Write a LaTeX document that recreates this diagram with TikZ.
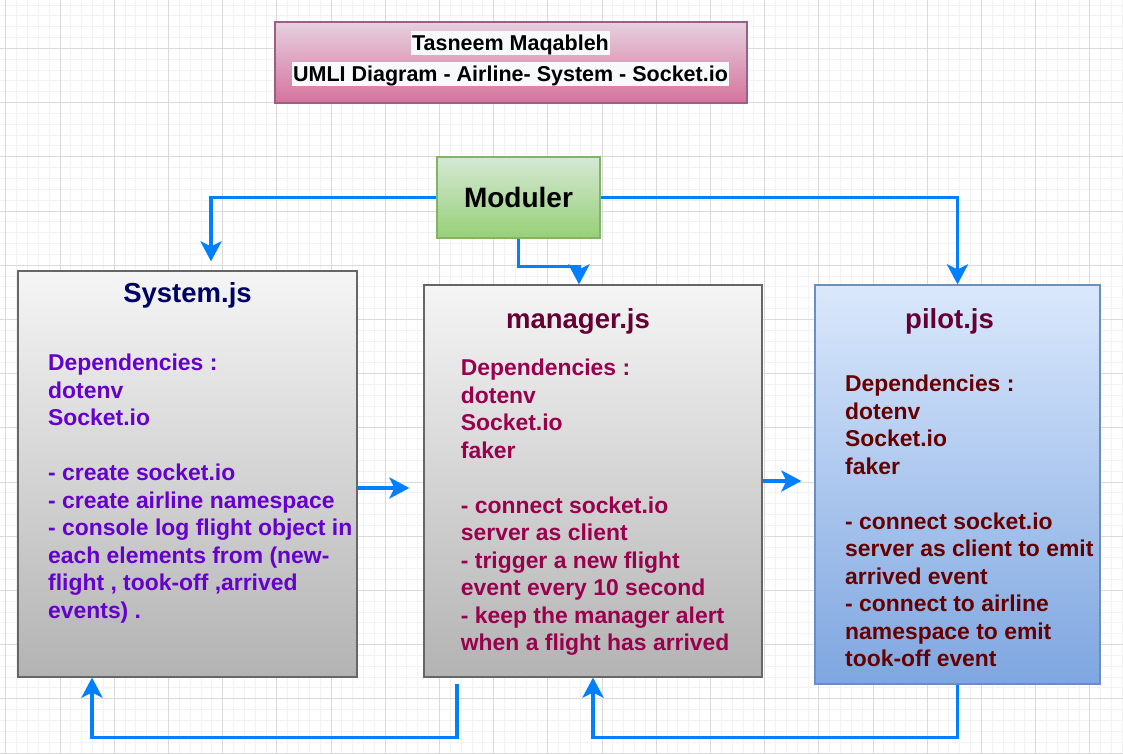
\documentclass[tikz,border=0pt]{standalone}
\usepackage{fontspec}
\setmainfont{Liberation Sans}
\usetikzlibrary{arrows.meta,positioning}

\definecolor{linkblue}{RGB}{0,127,255}
\definecolor{gridminor}{RGB}{242,242,242}
\definecolor{gridmajor}{RGB}{218,218,218}
\definecolor{hdrtop}{RGB}{230,208,222}
\definecolor{hdrbot}{RGB}{213,115,157}
\definecolor{hdrline}{RGB}{153,97,133}
\definecolor{modtop}{RGB}{213,232,212}
\definecolor{modbot}{RGB}{151,208,119}
\definecolor{modline}{RGB}{130,179,102}
\definecolor{greytop}{RGB}{245,245,245}
\definecolor{greybot}{RGB}{179,179,179}
\definecolor{greyline}{RGB}{102,102,102}
\definecolor{bluetop}{RGB}{218,232,252}
\definecolor{bluebot}{RGB}{126,166,224}
\definecolor{blueline}{RGB}{108,142,191}
\definecolor{navytxt}{RGB}{0,0,102}
\definecolor{purpletxt}{RGB}{102,0,204}
\definecolor{wine}{RGB}{102,0,51}
\definecolor{berry}{RGB}{153,0,77}
\definecolor{darkred}{RGB}{102,0,0}
\definecolor{labelbg}{RGB}{248,249,251}

\begin{document}
\begin{tikzpicture}[x=1pt,y=1pt,yscale=-1,xscale=1,
  box/.style={rectangle,line width=1.2pt,inner sep=0pt},
  hdrtext/.style={fill=labelbg,text=black,inner xsep=1pt,inner ysep=0pt,text height=19.5pt,text depth=4.5pt,font=\bfseries\fontsize{21.5}{25}\selectfont},
  jstitle/.style={anchor=base,inner sep=0pt,font=\bfseries\fontsize{27.5}{33}\selectfont},
  jsbody/.style={anchor=north west,inner sep=0pt,align=left,font=\bfseries\fontsize{22.9}{27.5}\selectfont},
  link/.style={draw=linkblue,line width=3.5pt,-{Stealth[length=20pt,width=21pt,inset=5pt]}}]
\useasboundingbox (0,0) rectangle (1123,754);
\fill[white] (0,0) rectangle (1123,754);

%Grid
\begin{scope}
\clip (0,0) rectangle (1123,754);
\begin{scope}[shift={(5.8,48.3)}]
\draw[gridminor,line width=0.8pt,step=10.84] (-10.84,-54.2) grid (1130,720);
\draw[gridmajor,line width=0.8pt,step=54.2] (-54.2,-54.2) grid (1130,720);
\end{scope}
\end{scope}

%Rectangle: heading
\node[box,draw=hdrline,top color=hdrtop,bottom color=hdrbot,minimum width=472pt,minimum height=81pt] (hdr) at (511,62.5) {};
% Text Node
\node[hdrtext] (hdrname) at (510.5,43.3) {Tasneem Maqableh};
% Text Node
\node[hdrtext,below=6pt of hdrname] (hdrtitle) {UMLI Diagram - Airline- System - Socket.io};

%Rectangle: Moduler
\node[box,draw=modline,top color=modtop,bottom color=modbot,minimum width=163pt,minimum height=81pt,font=\bfseries\fontsize{28}{33}\selectfont] (mod) at (518.5,197.5) {Moduler};

%Rectangle: System.js
\node[box,draw=greyline,top color=greytop,bottom color=greybot,minimum width=339pt,minimum height=406pt] (sys) at (187.5,474) {};
%Rectangle: manager.js
\node[box,draw=greyline,top color=greytop,bottom color=greybot,minimum width=338pt,minimum height=392pt] (mgr) at (593,481) {};
%Rectangle: pilot.js
\node[box,draw=blueline,top color=bluetop,bottom color=bluebot,minimum width=285pt,minimum height=399pt] (pil) at (957.5,484.5) {};

% Text Node
\node[jstitle,text=navytxt] (systitle) at (187.5,302) {System.js};
% Text Node
\node[jsbody,text=purpletxt] (sysbody) at (48,354) {Dependencies :\\dotenv\\Socket.io\\[27.5pt]- create socket.io\\- create airline namespace\\- console log flight object in\\each elements from (new-\\flight , took-off ,arrived\\events) .};

% Text Node
\node[jstitle,text=wine] (mgrtitle) at (578,328) {manager.js};
% Text Node
\node[jsbody,text=berry] (mgrbody) at (460.7,359) {Dependencies :\\dotenv\\Socket.io\\faker\\[27.5pt]- connect socket.io\\server as client\\- trigger a new flight\\event every 10 second\\- keep the manager alert\\when a flight has arrived};

% Text Node
\node[jstitle,text=wine] (piltitle) at (949.5,328) {pilot.js};
% Text Node
\node[jsbody,text=darkred] (pilbody) at (845,375) {Dependencies :\\dotenv\\Socket.io\\faker\\[27.5pt]- connect socket.io\\server as client to emit\\arrived event\\- connect to airline\\namespace to emit\\took-off event};

%Connectors
\draw[link,shorten >=9pt] (mod.west) -| ([xshift=23.5pt]sys.north);
\draw[link] (mod.east) -| (pil.north);
\draw[link] (mod.south) -- ++(0,28) -| ([xshift=-14pt]mgr.north);
\draw[link,shorten >=14pt] ([yshift=14pt]sys.east) -- ([yshift=14pt]sys.east -| mgr.west);
\draw[link,shorten >=13pt] (mgr.east) -- (mgr.east -| pil.west);
\draw[link,shorten <=6pt] ([xshift=-136pt]mgr.south) -- ++(0,60) -| ([xshift=-95.5pt]sys.south);
\draw[link] (pil.south) -- ++(0,53) -| (mgr.south);

\end{tikzpicture}
\end{document}
